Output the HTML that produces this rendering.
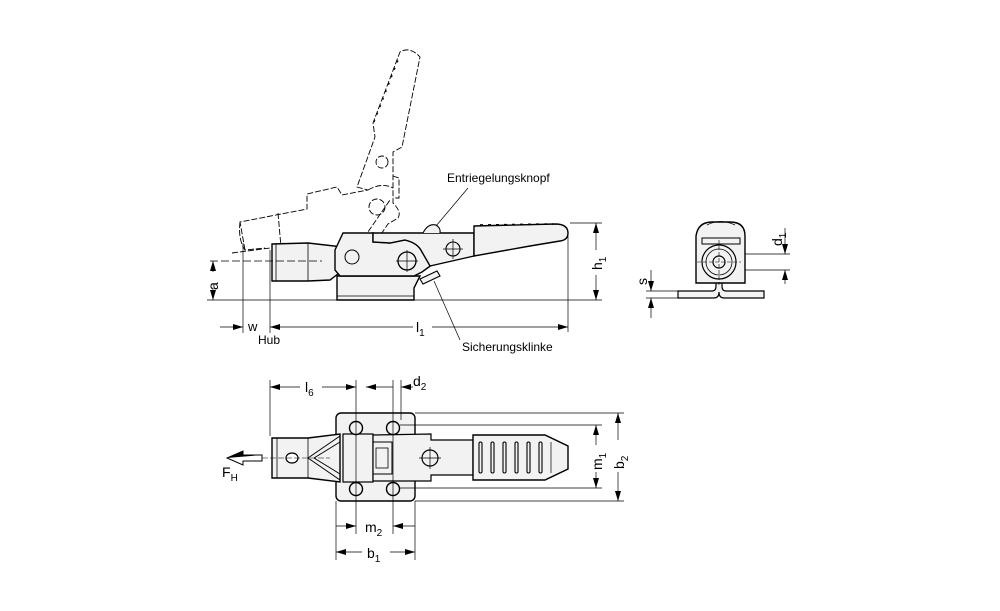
<!DOCTYPE html>
<html><head><meta charset="utf-8"><style>
html,body{margin:0;padding:0;background:#fff}
svg{display:block}
text{font-family:"Liberation Sans",sans-serif;fill:#000}
</style></head><body>
<svg width="1000" height="611" viewBox="0 0 1000 611" xmlns="http://www.w3.org/2000/svg">
<defs>
<marker id="ar" viewBox="0 0 10 6" refX="10" refY="3" markerWidth="10" markerHeight="6" orient="auto-start-reverse" markerUnits="userSpaceOnUse"><path d="M0,0 L10,3 L0,6 Z" fill="#000"/></marker>
</defs>
<g fill="none" stroke="#000">
<!-- ===== SIDE VIEW ===== -->
<g stroke-width="0.9" stroke-dasharray="6,2">
<path d="M245,250 L240,222 L307,209 L307,194 L337,187 L342,195 L368,190 L357,187 L375,137 L373,123 L400,52 Q410,46 420,57 L402,147 L393,152 L393,203 Q402,212 398,218 L388,224 L377,240"/>
<path d="M240,222 Q238,240 245,250 L265,248"/>
<path d="M368,190 Q382,182 393,188"/>
<circle cx="382" cy="162" r="6"/><circle cx="377" cy="207" r="8"/>
<path d="M393,176 L399,178 L399,198 L393,198"/>
<path d="M278,213 L281,247"/>
<path d="M350,258 L390,200"/>
<path d="M232,253 L308,243" />
</g>
<g stroke-width="1.4" stroke-dasharray="2,6"><path d="M374,122 L400,55"/></g>
<!-- ground line -->
<line x1="207" y1="300" x2="602" y2="300" stroke-width="0.8"/>
<!-- base block -->
<path d="M337,276 L337,300 L414,300 L414,288 L420,276 Z" fill="#f2f2f2" stroke-width="1.4"/>
<line x1="337" y1="296" x2="414" y2="296" stroke-width="0.7"/>
<!-- plunger -->
<path d="M272,244 L308,243 L343,247 L343,270 L330,280 L308,281 L272,281 Z" fill="#f2f2f2" stroke-width="1.4"/>
<line x1="276" y1="244" x2="276" y2="281" stroke-width="0.8"/>
<line x1="308" y1="243" x2="308" y2="281" stroke-width="0.8"/>
<!-- body / lever -->
<path d="M343,233 L373,233 L373,242 L390,243 L405,240 Q418,243 422,252 L430,256 L433,264 L422,272 L414,276 L340,276 L335,270 L335,250 Z" fill="#f2f2f2" stroke-width="1.4"/>
<path d="M373,233 L474,233 L474,256 L430,266 L422,252 Q418,243 405,240 L390,243 L373,242 Z" fill="#f2f2f2" stroke-width="1.4"/>
<path d="M474,226 L555,224 Q568,224 568,233 Q568,240 560,241 L530,246 L474,256 Z" fill="#f2f2f2" stroke-width="1.4"/>
<g stroke-width="1.6" stroke-dasharray="3,5"><line x1="480" y1="225" x2="553" y2="224"/></g>
<path d="M423,233 Q428,223 436,225 Q441,228 440,233" fill="#f2f2f2" stroke-width="1.1"/>
<path d="M420,279 L437,271 L440,276 L423,284 Z" fill="#f2f2f2" stroke-width="1.1"/>
<circle cx="352" cy="257" r="7" stroke-width="1"/>
<circle cx="407" cy="261" r="9" stroke-width="1.3"/><path d="M396,261 H418 M407,250 V272" stroke-width="0.7"/>
<circle cx="453" cy="249" r="7" stroke-width="1.1"/><path d="M443,249 H463 M453,239 V259" stroke-width="0.7"/>
<line x1="210" y1="261" x2="322" y2="261" stroke-width="0.7" stroke-dasharray="8,3"/>
<line x1="243" y1="243" x2="243" y2="333" stroke-width="0.7"/>
<line x1="270" y1="250" x2="270" y2="333" stroke-width="0.7"/>
<line x1="568" y1="236" x2="568" y2="332" stroke-width="0.7"/>
<line x1="570" y1="223" x2="602" y2="223" stroke-width="0.7"/>
<line x1="220" y1="327" x2="243" y2="327" stroke-width="0.7" marker-end="url(#ar)"/>
<line x1="270" y1="327" x2="413" y2="327" stroke-width="0.7" marker-start="url(#ar)"/>
<line x1="432" y1="327" x2="568" y2="327" stroke-width="0.7" marker-end="url(#ar)"/>
<line x1="596" y1="223" x2="596" y2="250" stroke-width="0.7" marker-start="url(#ar)"/>
<line x1="596" y1="275" x2="596" y2="300" stroke-width="0.7" marker-end="url(#ar)"/>
<line x1="213" y1="261" x2="213" y2="272" stroke-width="0.7" marker-start="url(#ar)"/>
<line x1="213" y1="288" x2="213" y2="300" stroke-width="0.7" marker-end="url(#ar)"/>
<line x1="468" y1="188" x2="436" y2="226" stroke-width="0.7"/>
<line x1="434" y1="281" x2="460" y2="340" stroke-width="0.7"/>

<!-- ===== FRONT VIEW ===== -->
<path d="M678,291 L712,291 Q716,291 716,286 L716,280 L722,280 L722,286 Q722,291 726,291 L764,291 L764,298 L724,298 Q719,298 719,292 Q719,298 714,298 L678,298 Z" fill="#f2f2f2" stroke-width="1.2"/>
<path d="M696,283 L696,236 Q698,222 712,222 L730,222 Q745,222 745,236 L745,283 Z" fill="#f2f2f2" stroke-width="1.4"/>
<rect x="702" y="238" width="38" height="6" fill="#f2f2f2" stroke-width="1"/>
<circle cx="719" cy="262" r="17" fill="#f2f2f2" stroke-width="1.2"/>
<circle cx="719" cy="262" r="13" stroke-width="0.8"/>
<circle cx="719" cy="262" r="6" stroke-width="1.2"/>
<path d="M697,262 H741 M719,240 V285" stroke-width="0.6" stroke-dasharray="4,2"/>
<path d="M707,225 Q720,218 735,225" stroke-width="0.8"/>
<line x1="745" y1="254" x2="790" y2="254" stroke-width="0.7"/>
<line x1="745" y1="270" x2="790" y2="270" stroke-width="0.7"/>
<line x1="785" y1="228" x2="785" y2="254" stroke-width="0.7" marker-end="url(#ar)"/>
<line x1="785" y1="284" x2="785" y2="270" stroke-width="0.7" marker-end="url(#ar)"/>
<line x1="646" y1="291" x2="678" y2="291" stroke-width="0.7"/>
<line x1="646" y1="298" x2="678" y2="298" stroke-width="0.7"/>
<line x1="651" y1="270" x2="651" y2="291" stroke-width="0.7" marker-end="url(#ar)"/>
<line x1="651" y1="318" x2="651" y2="298" stroke-width="0.7" marker-end="url(#ar)"/>

<!-- ===== TOP VIEW ===== -->
<rect x="336" y="413" width="79" height="88" rx="5" fill="#f2f2f2" stroke-width="1.4"/>
<path d="M272,438 L308,438 L340,434 L340,482 L308,478 L272,478 Z" fill="#f2f2f2" stroke-width="1.4"/>
<line x1="277" y1="438" x2="277" y2="478" stroke-width="0.8"/>
<line x1="308" y1="438" x2="308" y2="478" stroke-width="0.8"/>
<path d="M308,458 L340,436 M308,458 L340,480 M314,458 L340,442 M314,458 L340,474" stroke-width="1"/>
<ellipse cx="292" cy="458" rx="6" ry="5" fill="#fff" stroke-width="1.2"/>
<line x1="262" y1="458" x2="330" y2="458" stroke-width="0.6" stroke-dasharray="6,2"/>
<rect x="343" y="434" width="30" height="48" fill="#f2f2f2" stroke-width="1.2"/>
<path d="M373,435 L431,434 L431,440 L473,440 L473,475 L431,475 L431,481 L373,481 Z" fill="#f2f2f2" stroke-width="1.2"/>
<path d="M373,442 L392,442 L392,474 L373,474" stroke-width="1"/>
<rect x="376" y="448" width="12" height="20" stroke-width="0.8"/>
<path d="M473,435 L545,435 L568,446 L568,469 L545,480 L473,480 Z" fill="#f2f2f2" stroke-width="1.4"/>
<g stroke-width="1.1"><rect x="479" y="442" width="3" height="31" rx="1.5"/><rect x="491" y="442" width="3" height="31" rx="1.5"/><rect x="503" y="442" width="3" height="31" rx="1.5"/><rect x="515" y="442" width="3" height="31" rx="1.5"/><rect x="527" y="442" width="3" height="31" rx="1.5"/><rect x="539" y="442" width="3" height="31" rx="1.5"/></g>
<line x1="551" y1="442" x2="551" y2="473" stroke-width="0.7"/>
<circle cx="430" cy="458" r="8" fill="#f2f2f2" stroke-width="1.2"/><path d="M419,458 H441 M430,447 V469" stroke-width="0.7"/>
<g fill="#f2f2f2" stroke-width="1.4"><circle cx="356" cy="428" r="6.5"/><circle cx="393" cy="428" r="6.5"/><circle cx="356" cy="489" r="6.5"/><circle cx="393" cy="489" r="6.5"/></g>
<g stroke-width="0.7">
<line x1="270" y1="380" x2="270" y2="436"/>
<line x1="356" y1="380" x2="356" y2="534"/>
<line x1="393" y1="380" x2="393" y2="534"/>
<line x1="401" y1="380" x2="401" y2="420"/>
<line x1="336" y1="501" x2="336" y2="560"/>
<line x1="415" y1="501" x2="415" y2="560"/>
<line x1="270" y1="387" x2="300" y2="387" marker-start="url(#ar)"/>
<line x1="322" y1="387" x2="356" y2="387" marker-end="url(#ar)"/>
<line x1="366" y1="387" x2="393" y2="387" marker-start="url(#ar)"/>
<line x1="413" y1="387" x2="401" y2="387" marker-end="url(#ar)"/>
<line x1="336" y1="526" x2="356" y2="526" marker-end="url(#ar)"/>
<line x1="415" y1="526" x2="393" y2="526" marker-end="url(#ar)"/>
<line x1="336" y1="552" x2="362" y2="552" marker-start="url(#ar)"/>
<line x1="390" y1="552" x2="415" y2="552" marker-end="url(#ar)"/>
<line x1="415" y1="413" x2="624" y2="413"/>
<line x1="400" y1="425" x2="602" y2="425"/>
<line x1="400" y1="488" x2="602" y2="488"/>
<line x1="415" y1="501" x2="624" y2="501"/>
<line x1="596" y1="425" x2="596" y2="445" marker-start="url(#ar)"/>
<line x1="596" y1="472" x2="596" y2="488" marker-end="url(#ar)"/>
<line x1="618" y1="413" x2="618" y2="440" marker-start="url(#ar)"/>
<line x1="618" y1="472" x2="618" y2="501" marker-end="url(#ar)"/>
</g>
<path d="M262,455 L243,455 L243,451 L227,458 L243,465 L243,461 L262,461 Z" fill="#fff" stroke-width="1"/>
<path d="M262,455 L243,455 L243,451 L227,458 Z" fill="#000" stroke="none"/>
</g>
<g font-size="12">
<text x="447" y="182">Entriegelungsknopf</text>
<text x="462" y="351">Sicherungsklinke</text>
<text x="248" y="331" font-size="13">w</text>
<text x="258" y="344">Hub</text>
<text x="416" y="332" font-size="14">l<tspan font-size="10" dy="4">1</tspan></text>
<text x="218" y="290" transform="rotate(-90 218 290)" font-size="14">a</text>
<text x="602" y="270" transform="rotate(-90 602 270)" font-size="14">h<tspan font-size="10" dy="4">1</tspan></text>
<text x="782" y="246" transform="rotate(-90 782 246)" font-size="14">d<tspan font-size="10" dy="4">1</tspan></text>
<text x="647" y="285" transform="rotate(-90 647 285)" font-size="14">s</text>
<text x="305" y="392" font-size="14">l<tspan font-size="10" dy="4">6</tspan></text>
<text x="413" y="386" font-size="14">d<tspan font-size="10" dy="4">2</tspan></text>
<text x="365" y="532" font-size="14">m<tspan font-size="10" dy="4">2</tspan></text>
<text x="367" y="558" font-size="14">b<tspan font-size="10" dy="4">1</tspan></text>
<text x="602" y="470" transform="rotate(-90 602 470)" font-size="14">m<tspan font-size="10" dy="4">1</tspan></text>
<text x="624" y="469" transform="rotate(-90 624 469)" font-size="14">b<tspan font-size="10" dy="4">2</tspan></text>
<text x="222" y="477" font-size="14">F<tspan font-size="10" dy="4">H</tspan></text>
</g>
</svg>
</body></html>
